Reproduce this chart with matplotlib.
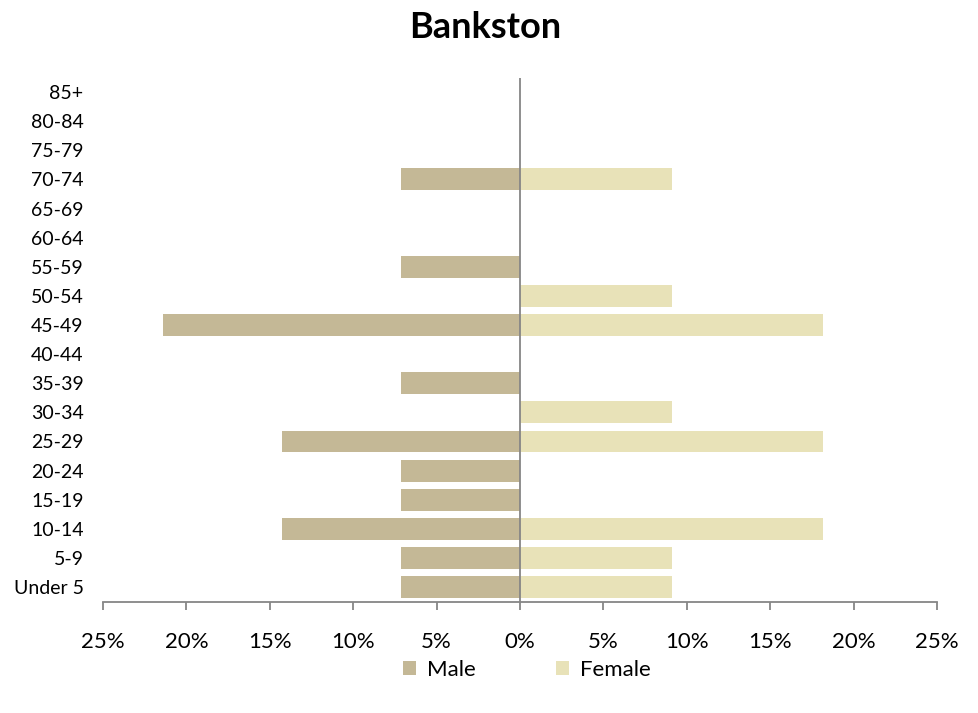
import matplotlib.pyplot as plt
import numpy as np
from matplotlib.ticker import FuncFormatter

plt.rcParams['font.family'] = ['Lato', 'DejaVu Sans']

ageGroups = ['Under 5', '5-9', '10-14', '15-19', '20-24', '25-29', '30-34', '35-39',
             '40-44', '45-49', '50-54', '55-59', '60-64', '65-69', '70-74', '75-79',
             '80-84', '85+']
malePct = [7.14, 7.14, 14.29, 7.14, 7.14, 14.29, 0, 7.14,
           0, 21.43, 0, 7.14, 0, 0, 7.14, 0, 0, 0]
femalePct = [9.09, 9.09, 18.18, 0, 0, 18.18, 9.09, 0,
             0, 18.18, 9.09, 0, 0, 0, 9.09, 0, 0, 0]
xTicks = [-25, -20, -15, -10, -5, 0, 5, 10, 15, 20, 25]

maleColor = '#C4B896'
femaleColor = '#E8E2B8'
axisGray = '#868686'

fig = plt.figure(figsize=(9.79, 7.13), dpi=100)
ax = fig.add_axes([0.1052, 0.1562, 0.8519, 0.7351])

y = np.arange(len(ageGroups))
ax.barh(y, -np.array(malePct), height=0.75, color=maleColor, label='Male')
ax.barh(y, femalePct, height=0.75, color=femaleColor, label='Female')

ax.set_xlim(-25, 25)
ax.set_ylim(-0.5, len(ageGroups) - 0.5)
ax.axvline(0, color=axisGray, lw=1.3)

ax.set_yticks(y)
ax.set_yticklabels(ageGroups, fontsize=14)
ax.set_xticks(xTicks)
ax.xaxis.set_major_formatter(FuncFormatter(lambda v, p: '%d%%' % abs(v)))
ax.tick_params(axis='x', labelsize=16, length=6, width=1.3, color=axisGray, pad=16)
ax.tick_params(axis='y', length=0, pad=14)

for s in ['top', 'right', 'left']:
    ax.spines[s].set_visible(False)
ax.spines['bottom'].set_color(axisGray)
ax.spines['bottom'].set_linewidth(1.3)

fig.text(0.496, 0.962, 'Bankston', ha='center', va='center', fontsize=26, fontweight='bold')

fig.legend(loc='center', bbox_to_anchor=(0.538, 0.060), ncol=2, frameon=False,
           fontsize=16, handlelength=0.6, handleheight=0.6, handletextpad=0.5,
           columnspacing=3.6)

fig.savefig('out.png', dpi=100)
